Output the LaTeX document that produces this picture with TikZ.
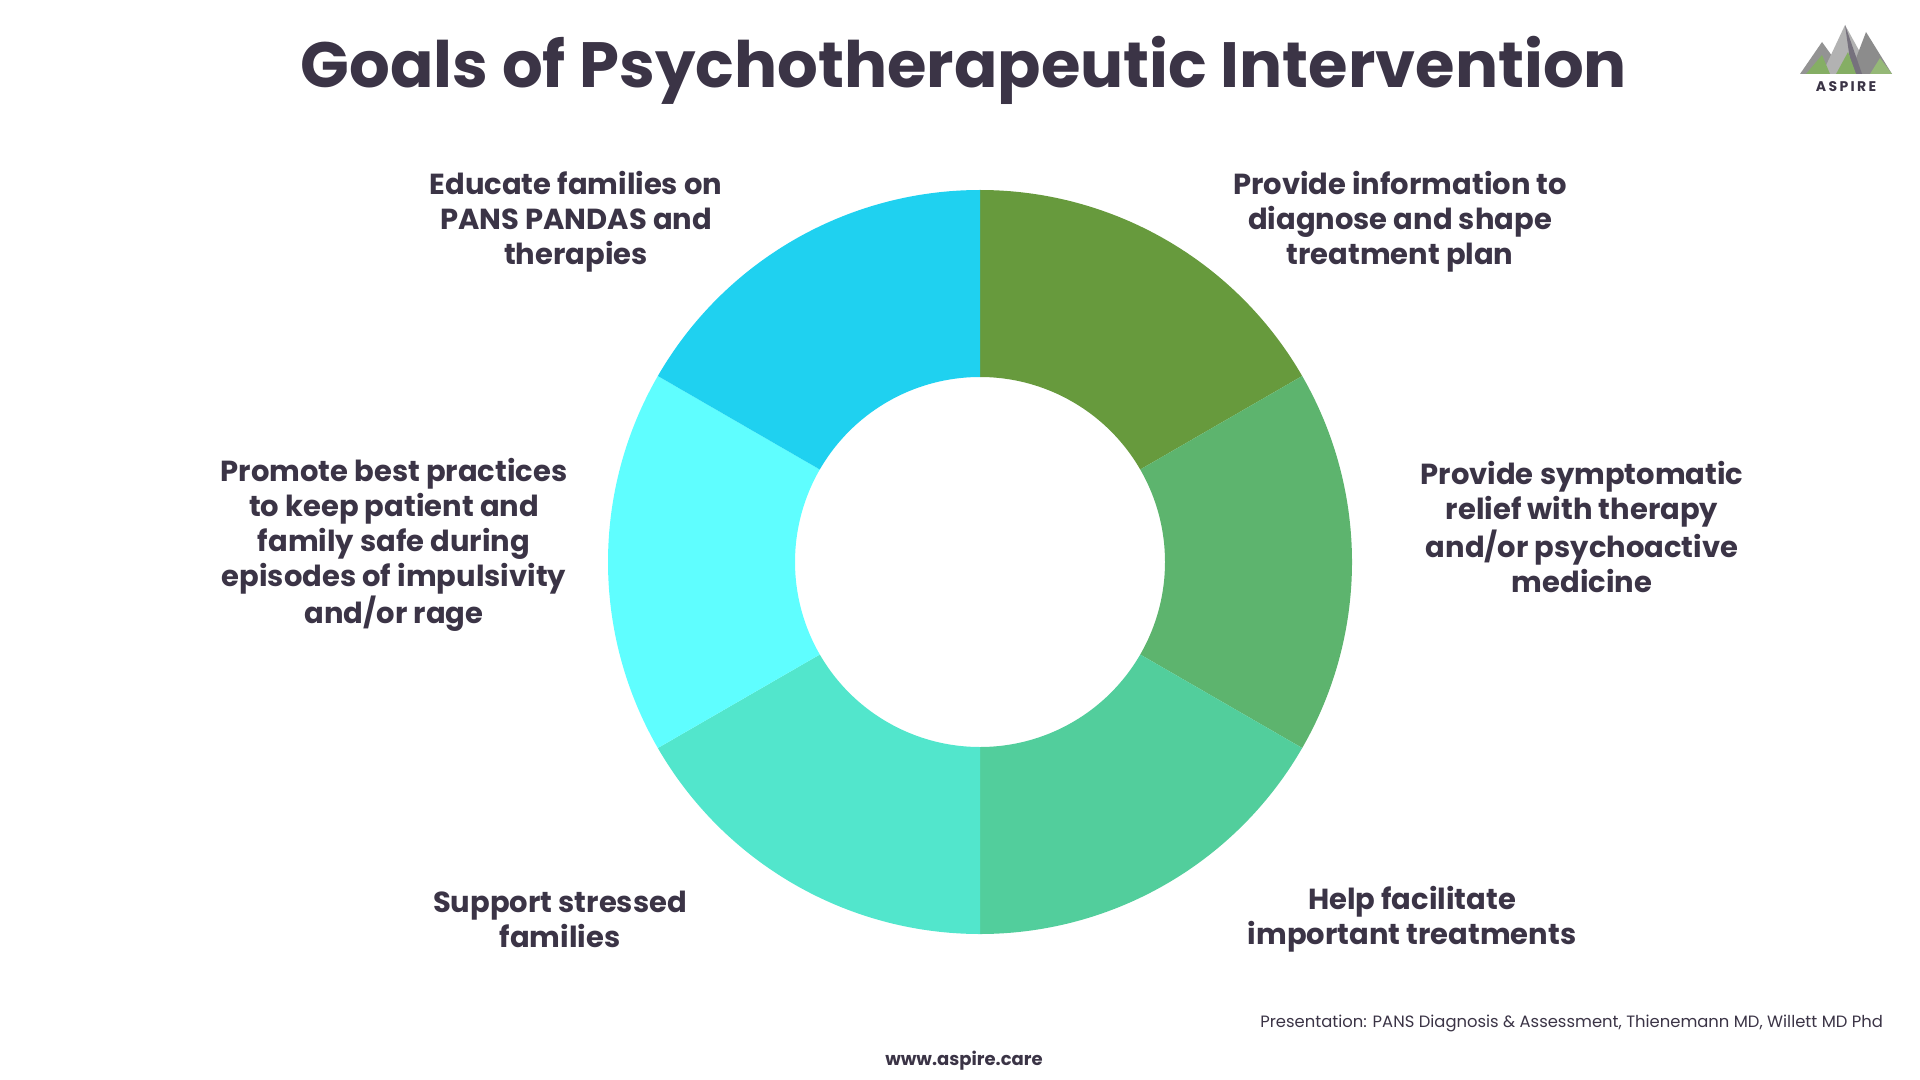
\documentclass[tikz,border=0pt]{standalone}
\usepackage{fontspec}
\setmainfont{Poppins}
\definecolor{ink}{HTML}{3B3446}
\definecolor{segA}{HTML}{679A3D}
\definecolor{segB}{HTML}{5DB46E}
\definecolor{segC}{HTML}{52CE9C}
\definecolor{segD}{HTML}{52E6CC}
\definecolor{segE}{HTML}{5FFEFF}
\definecolor{segF}{HTML}{1FD1F0}
\tikzset{
  goal/.style={text=ink, align=center, font=\fontsize{14.5}{17.5}\selectfont\bfseries},
  small/.style={text=ink, font=\fontsize{8.2}{9}\selectfont}
}
\begin{document}
\begin{tikzpicture}[x=0.5pt,y=-0.5pt]
\useasboundingbox (0,0) rectangle (1920,1080);
\node[text=ink, font=\fontsize{32}{34}\selectfont\bfseries] (title) at (964,70) {Goals of Psychotherapeutic Intervention};
% donut
\begin{scope}[shift={(980,562)},x=0.5pt,y=0.5pt]
\foreach \a/\c in {90/segA,30/segB,-30/segC,-90/segD,-150/segE,150/segF}
  \fill[\c] (\a:372) arc[start angle=\a, delta angle=-60, radius=372]
    -- ({\a-60}:185) arc[start angle={\a-60}, delta angle=60, radius=185] -- cycle;
\end{scope}
\node[goal] (g1) at (1400,222) {Provide information to\\diagnose and shape\\treatment plan};
\node[goal] (g2) at (1582,527) {Provide symptomatic\\relief with therapy\\and/or psychoactive\\medicine};
\node[goal] (g3) at (1412,919) {Help facilitate\\important treatments};
\node[goal] (g4) at (560,919) {Support stressed\\families};
\node[goal] (g5) at (394,545) {Promote best practices\\to keep patient and\\family safe during\\episodes of impulsivity\\and/or rage};
\node[goal] (g6) at (576,222) {Educate families on\\PANS PANDAS and\\therapies};
\node[small, anchor=east] (src) at (1890,1023) {Presentation: PANS Diagnosis \& Assessment, Thienemann MD, Willett MD Phd};
\node[small, font=\fontsize{9}{10}\selectfont\bfseries] (web) at (964,1061) {www.aspire.care};
% logo
\fill[gray!85] (1800,74) -- (1822,42) -- (1845,74) -- cycle;
\fill[gray!60] (1822,74) -- (1845,25) -- (1872,74) -- cycle;
\fill[gray!90] (1850,74) -- (1866,32) -- (1892,74) -- cycle;
\fill[ink!70] (1845,25) -- (1852,74) -- (1862,74) -- cycle;
\fill[segA!80] (1806,74) -- (1822,55) -- (1830,74) -- cycle;
\fill[segA!80] (1836,74) -- (1848,52) -- (1856,74) -- cycle;
\fill[segA!70] (1870,74) -- (1880,58) -- (1892,74) -- cycle;
\node[text=ink, font=\fontsize{7}{8}\selectfont\bfseries] (logo) at (1846,87) {A\,S\,P\,I\,R\,E};
\end{tikzpicture}
\end{document}
